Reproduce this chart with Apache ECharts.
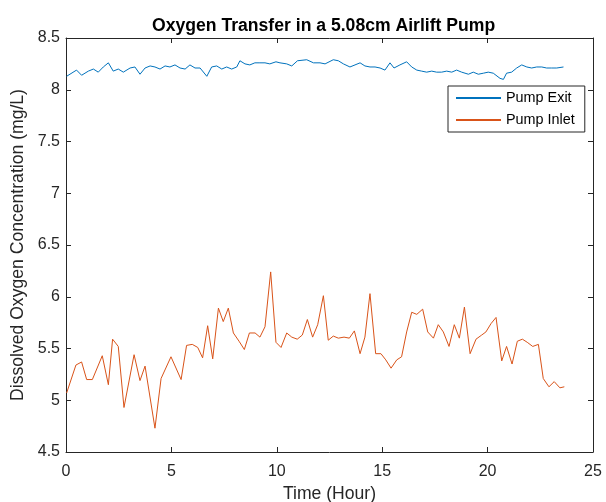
<!DOCTYPE html>
<html>
<head>
<meta charset="utf-8">
<script src="https://cdn.jsdelivr.net/npm/echarts@6/dist/echarts.min.js"></script>
<style>
  html, body { margin: 0; padding: 0; background: #fff; }
  #chart { width: 606px; height: 502px; }
</style>
</head>
<body>
<div id="chart"></div>
<script>
// time (hour) and dissolved oxygen (mg/L)
var exitTime = [0.03, 0.50, 0.74, 1.06, 1.30, 1.53, 1.77, 2.01, 2.24, 2.48, 2.72, 3.04, 3.27, 3.51, 3.75, 3.99, 4.22, 4.46, 4.70, 4.93,
  5.17, 5.41, 5.65, 5.88, 6.12, 6.36, 6.68, 6.91, 7.15, 7.39, 7.62, 7.86, 8.10, 8.25, 8.49, 8.72, 8.96, 9.20, 9.44, 9.67,
  9.96, 10.15, 10.47, 10.71, 10.98, 11.42, 11.74, 12.05, 12.29, 12.68, 12.92, 13.16, 13.47, 13.71, 13.95, 14.18, 14.42, 14.66, 14.90, 15.13,
  15.37, 15.56, 15.84, 16.16, 16.40, 16.64, 16.87, 17.11, 17.35, 17.58, 17.82, 18.06, 18.30, 18.53, 18.77, 19.09, 19.32, 19.56, 19.80, 20.03,
  20.27, 20.59, 20.75, 20.90, 21.14, 21.38, 21.62, 21.86, 22.09, 22.33, 22.57, 22.80, 23.04, 23.28, 23.60];
var exitValues = [8.13, 8.19, 8.14, 8.18, 8.20, 8.17, 8.22, 8.26, 8.18, 8.20, 8.17, 8.21, 8.22, 8.15, 8.21, 8.23, 8.22, 8.20, 8.23, 8.22,
  8.24, 8.21, 8.20, 8.24, 8.21, 8.21, 8.13, 8.22, 8.23, 8.20, 8.22, 8.20, 8.22, 8.28, 8.25, 8.24, 8.26, 8.26, 8.26, 8.25,
  8.27, 8.26, 8.25, 8.23, 8.28, 8.29, 8.26, 8.26, 8.25, 8.29, 8.28, 8.25, 8.22, 8.24, 8.26, 8.23, 8.22, 8.22, 8.21, 8.19,
  8.26, 8.21, 8.24, 8.27, 8.22, 8.19, 8.18, 8.17, 8.18, 8.17, 8.17, 8.18, 8.17, 8.19, 8.17, 8.15, 8.17, 8.15, 8.16, 8.17,
  8.16, 8.11, 8.10, 8.16, 8.17, 8.21, 8.24, 8.22, 8.21, 8.22, 8.22, 8.21, 8.21, 8.21, 8.22];

var inletTime = [0.03, 0.47, 0.74, 0.98, 1.25, 1.72, 2.01, 2.21, 2.48, 2.75, 3.23, 3.51, 3.75, 4.22, 4.51, 4.98, 5.46, 5.72, 5.99, 6.25,
  6.48, 6.72, 6.96, 7.23, 7.46, 7.70, 7.94, 8.21, 8.46, 8.70, 8.97, 9.20, 9.44, 9.71, 9.96, 10.20, 10.47, 10.71, 10.97, 11.21,
  11.45, 11.70, 11.94, 12.21, 12.44, 12.68, 12.92, 13.19, 13.44, 13.68, 13.95, 14.18, 14.42, 14.69, 14.94, 15.17, 15.42, 15.69, 15.92, 16.16,
  16.40, 16.64, 16.92, 17.16, 17.43, 17.66, 17.90, 18.17, 18.42, 18.66, 18.90, 19.17, 19.45, 19.72, 19.92, 20.16, 20.40, 20.67, 20.90, 21.16,
  21.41, 21.65, 21.88, 22.14, 22.41, 22.64, 22.91, 23.16, 23.43, 23.64];
var inletValues = [5.07, 5.34, 5.37, 5.20, 5.20, 5.43, 5.15, 5.59, 5.52, 4.93, 5.44, 5.19, 5.33, 4.73, 5.21, 5.42, 5.20, 5.53, 5.54, 5.51,
  5.41, 5.72, 5.40, 5.89, 5.76, 5.89, 5.65, 5.57, 5.49, 5.65, 5.65, 5.61, 5.71, 6.24, 5.56, 5.51, 5.65, 5.61, 5.59, 5.63,
  5.78, 5.61, 5.73, 6.01, 5.58, 5.62, 5.60, 5.61, 5.60, 5.67, 5.45, 5.61, 6.03, 5.45, 5.45, 5.39, 5.31, 5.39, 5.42, 5.66,
  5.85, 5.83, 5.88, 5.66, 5.60, 5.73, 5.66, 5.52, 5.73, 5.60, 5.90, 5.45, 5.59, 5.63, 5.66, 5.74, 5.80, 5.38, 5.52, 5.35,
  5.57, 5.59, 5.56, 5.52, 5.54, 5.21, 5.13, 5.18, 5.12, 5.13];

var seriesNames = ['Pump Exit', 'Pump Inlet'];

var FONT = '"Liberation Sans", Arial, sans-serif';
var AXIS_COLOR = '#262626';

function pairs(xs, ys) {
  return xs.map(function (x, i) { return [x, ys[i]]; });
}

// MATLAB style box: every side gets an axis line and inward ticks
function xAxisOpt(pos, labels) {
  return {
    type: 'value', position: pos, min: 0, max: 25, interval: 5,
    axisLine: { show: true, onZero: false, lineStyle: { color: AXIS_COLOR, width: 1 } },
    axisTick: { show: true, inside: true, length: 5, lineStyle: { color: AXIS_COLOR } },
    axisLabel: { show: labels, color: AXIS_COLOR, fontSize: 16, fontFamily: FONT, margin: 12 },
    splitLine: { show: false },
    name: labels ? 'Time (Hour)' : '',
    nameLocation: 'middle', nameGap: 31,
    nameTextStyle: { color: AXIS_COLOR, fontSize: 17.6, fontFamily: FONT }
  };
}

function yAxisOpt(pos, labels) {
  return {
    type: 'value', position: pos, min: 4.5, max: 8.5, interval: 0.5,
    axisLine: { show: true, onZero: false, lineStyle: { color: AXIS_COLOR, width: 1 } },
    axisTick: { show: true, inside: true, length: 5, lineStyle: { color: AXIS_COLOR } },
    axisLabel: { show: labels, color: AXIS_COLOR, fontSize: 16, fontFamily: FONT, margin: 6 },
    splitLine: { show: false },
    name: labels ? 'Dissolved Oxygen Concentration (mg/L)' : '',
    nameLocation: 'middle', nameGap: 35, nameRotate: 90,
    nameTextStyle: { color: AXIS_COLOR, fontSize: 17.6, fontFamily: FONT }
  };
}

var chart = echarts.init(document.getElementById('chart'), null, { renderer: 'canvas' });
chart.setOption({
  backgroundColor: '#ffffff',
  animation: false,
  title: {
    text: 'Oxygen Transfer in a 5.08cm Airlift Pump',
    left: 152, top: 17, padding: 0,
    textStyle: { color: '#000', fontSize: 17.6, fontWeight: 'bold', fontFamily: FONT }
  },
  legend: {
    data: seriesNames,
    orient: 'vertical',
    left: 448, top: 86,
    padding: [5, 10, 5, 7],
    itemWidth: 45, itemHeight: 14, itemGap: 8,
    backgroundColor: '#fff',
    borderColor: AXIS_COLOR, borderWidth: 1, borderRadius: 0,
    itemStyle: { opacity: 0 },
    textStyle: { color: '#000', fontSize: 14.4, fontFamily: FONT }
  },
  grid: { left: 66, top: 38, right: 13, bottom: 50, containLabel: false, outerBoundsMode: 'none' },
  xAxis: [xAxisOpt('bottom', true), xAxisOpt('top', false)],
  yAxis: [yAxisOpt('left', true), yAxisOpt('right', false)],
  series: [
    {
      name: seriesNames[0], type: 'line', xAxisIndex: 0, yAxisIndex: 0,
      data: pairs(exitTime, exitValues),
      symbol: 'none', color: '#0072BD',
      lineStyle: { width: 1, color: '#0072BD' }
    },
    {
      name: seriesNames[1], type: 'line', xAxisIndex: 0, yAxisIndex: 0,
      data: pairs(inletTime, inletValues),
      symbol: 'none', color: '#D95319',
      lineStyle: { width: 1, color: '#D95319' }
    }
  ]
});
</script>
</body>
</html>
